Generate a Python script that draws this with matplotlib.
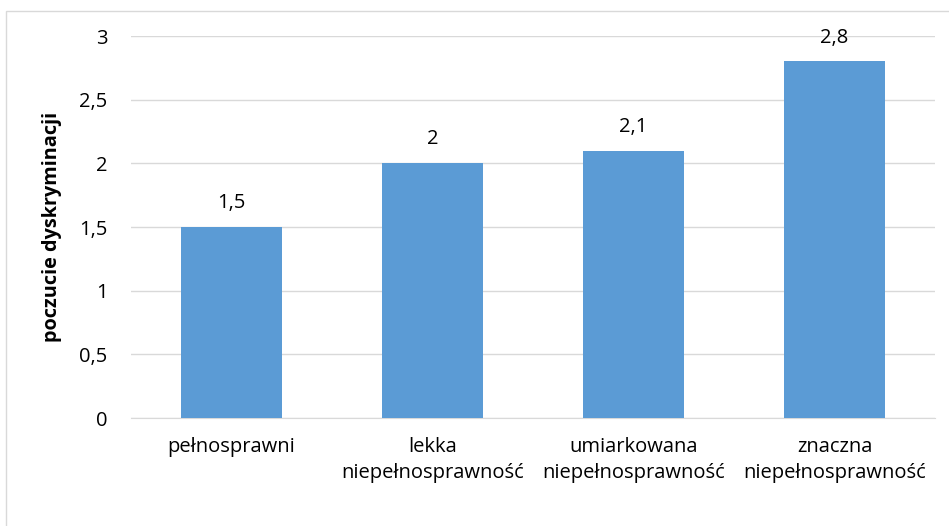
import matplotlib.pyplot as plt
from matplotlib.patches import Rectangle

categories = ['pełnosprawni', 'lekka\nniepełnosprawność',
              'umiarkowana\nniepełnosprawność', 'znaczna\nniepełnosprawność']
values = [1.5, 2.0, 2.1, 2.8]
value_labels = ['1,5', '2', '2,1', '2,8']
yticks = [0, 0.5, 1, 1.5, 2, 2.5, 3]
ytick_labels = ['0', '0,5', '1', '1,5', '2', '2,5', '3']

plt.rcParams['font.family'] = ['Open Sans', 'DejaVu Sans']
fs = 14.5

fig = plt.figure(figsize=(9.49, 5.26), dpi=100)
ax = fig.add_axes([131/949, 1 - 418/526, (935-131)/949, (418-36)/526])

x = range(len(categories))
bars = ax.bar(x, values, width=0.5, color='#5B9BD5', zorder=3)
for i, v in enumerate(values):
    ax.annotate(value_labels[i], (i, v), xytext=(0, 10), textcoords='offset points',
                ha='center', va='bottom', fontsize=fs, color='#000000')

ax.set_xlim(-0.5, 3.5)
ax.set_ylim(0, 3)
ax.set_yticks(yticks)
ax.set_yticklabels(ytick_labels, fontsize=fs)
ax.set_xticks(list(x))
ax.set_xticklabels(categories, fontsize=fs, linespacing=1.4)
ax.tick_params(axis='both', length=0, colors='#000000')
ax.tick_params(axis='y', pad=17)
ax.tick_params(axis='x', pad=14)
ax.grid(axis='y', color='#D9D9D9', linewidth=1, zorder=0)
for s in ['top', 'right', 'left']:
    ax.spines[s].set_visible(False)
ax.spines['bottom'].set_color('#D9D9D9')
ax.set_ylabel('poczucie dyskryminacji', fontsize=14.3, fontweight='bold', labelpad=12)

fig.patches.append(Rectangle((6/949, -0.1), 1.1, 1 - 11/526 + 0.1,
                             transform=fig.transFigure, fill=False,
                             edgecolor='#D9D9D9', linewidth=1))

fig.savefig('out.png', dpi=100)
